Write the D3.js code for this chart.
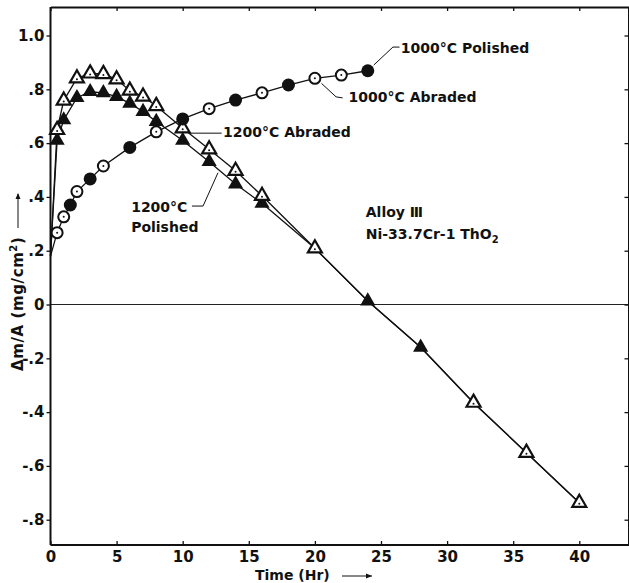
<!DOCTYPE html>
<html>
<head>
<meta charset="utf-8">
<script src="https://cdn.jsdelivr.net/npm/d3@7"></script>
<style>
  body { margin: 0; background: #fff; }
  svg text { font-family: "DejaVu Sans", sans-serif; font-weight: bold; fill: #111; }
</style>
</head>
<body>
<div id="chart"></div>
<script>
// values
var xTicks = [0, 5, 10, 15, 20, 25, 30, 35, 40];
var yTicks = [-0.8, -0.6, -0.4, -0.2, 0, 0.2, 0.4, 0.6, 0.8, 1.0];
var yTickLabels = ["-.8", "-.6", "-.4", "-.2", "0", ".2", ".4", ".6", ".8", "1.0"];

var startPoint = [0, 0.18];

var timesPol1000 = [1.5, 3, 6, 10, 14, 18, 24];
var valuesPol1000 = [0.37, 0.467, 0.584, 0.69, 0.76, 0.816, 0.869];
var timesAbr1000 = [0.5, 1, 2, 4, 8, 12, 16, 20, 22];
var valuesAbr1000 = [0.267, 0.326, 0.42, 0.515, 0.642, 0.728, 0.787, 0.841, 0.853];

var timesAbr1200 = [0.5, 1, 2, 3, 4, 5, 6, 7, 8, 10, 12, 14, 16, 20, 32, 36, 40];
var valuesAbr1200 = [0.649, 0.758, 0.841, 0.859, 0.857, 0.837, 0.795, 0.773, 0.738, 0.655, 0.577, 0.497, 0.404, 0.209, -0.365, -0.551, -0.737];
var timesPol1200 = [0.5, 1, 2, 3, 4, 5, 6, 7, 8, 10, 12, 14, 16, 24, 28];
var valuesPol1200 = [0.61, 0.686, 0.769, 0.791, 0.787, 0.773, 0.748, 0.717, 0.68, 0.61, 0.531, 0.448, 0.376, 0.013, -0.159];

var svgWidth = 629;
var svgHeight = 583;

var svg = d3.select("#chart")
  .append("svg")
  .attr("width", svgWidth)
  .attr("height", svgHeight);

var x = d3.scaleLinear().domain([0, 43.76]).range([50.5, 629]);
var y = d3.scaleLinear().domain([-0.894, 1.106]).range([545, 7]);

function pts(ts, vs) {
  return ts.map(function(t, i) { return { t: t, v: vs[i] }; });
}

var pol1000 = pts(timesPol1000, valuesPol1000);
var abr1000 = pts(timesAbr1000, valuesAbr1000);
var abr1200 = pts(timesAbr1200, valuesAbr1200);
var pol1200 = pts(timesPol1200, valuesPol1200);
var start = { t: startPoint[0], v: startPoint[1] };

// 1000C: one curve through both sets of points
var curve1000 = [start].concat(pol1000, abr1000).sort(function(a, b) { return a.t - b.t; });
// 1200C: the two curves join after 16 hr
var tail1200 = abr1200.concat(pol1200).filter(function(d) { return d.t > 16; })
  .sort(function(a, b) { return a.t - b.t; });
var curveAbr1200 = [start].concat(abr1200.filter(function(d) { return d.t <= 16; }), tail1200);
var curvePol1200 = [start].concat(pol1200.filter(function(d) { return d.t <= 16; }), tail1200);

// zero line
svg.append("line")
  .attr("x1", x(0)).attr("x2", x(43.76))
  .attr("y1", y(0)).attr("y2", y(0))
  .attr("stroke", "#222").attr("stroke-width", 1);

// axes
var leftAxis = d3.axisLeft(y).tickValues(yTicks).tickSize(4).tickPadding(2)
  .tickFormat(function(d, i) { return yTickLabels[i]; });
var bottomAxis = d3.axisBottom(x).tickValues(xTicks).tickSizeInner(-4).tickSizeOuter(0).tickPadding(6);
var topAxis = d3.axisTop(x).tickValues(xTicks).tickSizeInner(-4).tickSizeOuter(0).tickFormat("");
var rightAxis = d3.axisRight(y).tickValues(yTicks).tickSizeInner(-4).tickSizeOuter(0).tickFormat("");

var gl = svg.append("g").attr("transform", "translate(50.5,0)").call(leftAxis.tickSizeOuter(0));
var gb = svg.append("g").attr("transform", "translate(0,545)").call(bottomAxis);
var gt = svg.append("g").attr("transform", "translate(0,7)").call(topAxis);
var gr = svg.append("g").attr("transform", "translate(628.5,0)").call(rightAxis);

[gl, gb, gt, gr].forEach(function(g) {
  g.select(".domain").attr("stroke", "#111").attr("stroke-width", 2);
  g.selectAll(".tick line").attr("stroke", "#111").attr("stroke-width", 1.3);
  g.selectAll("text").attr("font-size", 15).attr("fill", "#111")
    .style("font-family", "'DejaVu Sans', sans-serif").style("font-weight", "bold");
});
gl.select(".domain").attr("d", "M0,7V545");
gb.select(".domain").attr("d", "M50.5,0H629");

// curves
var line = d3.line().x(function(d) { return x(d.t); }).y(function(d) { return y(d.v); });
[curve1000, curveAbr1200, curvePol1200].forEach(function(c) {
  svg.append("path")
    .datum(c)
    .attr("d", line)
    .attr("fill", "none")
    .attr("stroke", "#111")
    .attr("stroke-width", 1.3);
});

// markers
var tri = d3.symbol().type(d3.symbolTriangle);

svg.selectAll(".polTri").data(pol1200).enter()
  .append("path")
  .attr("d", tri.size(100))
  .attr("transform", function(d) { return "translate(" + x(d.t) + "," + y(d.v) + ")"; })
  .attr("fill", "#111");

svg.selectAll(".abrTri").data(abr1200).enter()
  .append("path")
  .attr("d", tri.size(85))
  .attr("transform", function(d) { return "translate(" + x(d.t) + "," + y(d.v) + ")"; })
  .attr("fill", "#fff")
  .attr("stroke", "#111")
  .attr("stroke-width", 2.2);

svg.selectAll(".abrTriDot").data(abr1200).enter()
  .append("circle")
  .attr("cx", function(d) { return x(d.t); })
  .attr("cy", function(d) { return y(d.v) + 1; })
  .attr("r", 1)
  .attr("fill", "#111");

svg.selectAll(".polCirc").data(pol1000).enter()
  .append("circle")
  .attr("cx", function(d) { return x(d.t); })
  .attr("cy", function(d) { return y(d.v); })
  .attr("r", 6.5)
  .attr("fill", "#111");

svg.selectAll(".abrCirc").data(abr1000).enter()
  .append("circle")
  .attr("cx", function(d) { return x(d.t); })
  .attr("cy", function(d) { return y(d.v); })
  .attr("r", 5.5)
  .attr("fill", "#fff")
  .attr("stroke", "#111")
  .attr("stroke-width", 2);

svg.selectAll(".abrCircDot").data(abr1000).enter()
  .append("circle")
  .attr("cx", function(d) { return x(d.t); })
  .attr("cy", function(d) { return y(d.v); })
  .attr("r", 1)
  .attr("fill", "#111");

// annotations (in data units)
var leader = d3.line().x(function(d) { return x(d[0]); }).y(function(d) { return y(d[1]); });
var leaders = [
  [[26.4, 0.957], [25.9, 0.957], [24.45, 0.89]],
  [[22.1, 0.768], [21.6, 0.772], [20.5, 0.822]],
  [[12.95, 0.637], [10.55, 0.637]],
  [[10.7, 0.366], [11.54, 0.366], [12.67, 0.49]]
];
leaders.forEach(function(l) {
  svg.append("path").attr("d", leader(l))
    .attr("fill", "none").attr("stroke", "#111").attr("stroke-width", 1);
});

function label(t, v, txt) {
  return svg.append("text")
    .attr("x", x(t)).attr("y", y(v))
    .attr("font-size", 14)
    .text(txt);
}
label(26.5, 0.935, "1000°C Polished");
label(22.55, 0.752, "1000°C Abraded");
label(13.05, 0.623, "1200°C Abraded");
label(6.1, 0.344, "1200°C");
label(6.1, 0.27, "Polished");
label(23.85, 0.325, "Alloy Ⅲ");
var ni = label(23.85, 0.243, "Ni-33.7Cr-1 ThO");
ni.append("tspan").attr("font-size", 10).attr("dy", 4).text("2");

// axis titles
svg.append("text")
  .attr("x", 255).attr("y", 580)
  .attr("font-size", 14)
  .text("Time (Hr)");
svg.append("line")
  .attr("x1", 342).attr("x2", 372).attr("y1", 576).attr("y2", 576)
  .attr("stroke", "#111").attr("stroke-width", 1);
svg.append("path").attr("d", "M372,576l-6,-2.5v5z").attr("fill", "#111");

var yt = svg.append("text")
  .attr("transform", "translate(23,371) rotate(-90)")
  .attr("font-size", 15)
  .attr("letter-spacing", 0.6)
  .text("Δm/A (mg/cm");
yt.append("tspan").attr("font-size", 10).attr("dy", -6).text("2");
yt.append("tspan").attr("dy", 6).text(")");
svg.append("line")
  .attr("x1", 18).attr("x2", 18).attr("y1", 228).attr("y2", 194)
  .attr("stroke", "#111").attr("stroke-width", 1);
svg.append("path").attr("d", "M18,193l-2.5,6h5z").attr("fill", "#111");
</script>
</body>
</html>
